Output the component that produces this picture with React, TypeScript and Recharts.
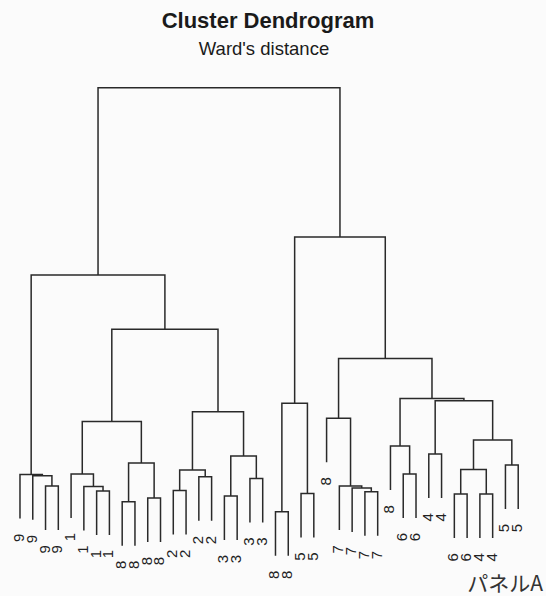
import React from 'react';
import { ComposedChart, Line, Scatter, XAxis, YAxis } from 'recharts';

// Leaf labels, left to right
const leafLabels = ['9','9','9','9','1','1','1','1','8','8','8','8','2','2','2','2','3','3','3','3','8','8','5','5','8','7','7','7','7','8','6','6','4','4','6','6','4','4','5','5'];

// hclust-style merge table: negative = leaf (1-based), positive = earlier merge (1-based)
const mergeLeft = [-3, -2, -1, -7, -6, -5, -9, -11, 7, 6, -13, -15, 11, -17, -19, 14, 13, 10, 3, -21, -23, 20, -28, -27, -26, -25, -31, -30, -33, -35, -37, 30, -39, 32, 29, 28, 26, 22, 19];
const mergeRight = [-4, 1, 2, -8, 4, 5, -10, -12, 8, 9, -14, -16, 12, -18, -20, 15, 16, 17, 18, -22, -24, 21, -29, 23, 24, 25, -32, 27, -34, -36, -38, 31, -40, 33, 34, 35, 36, 37, 38];
const mergeHeight = [2.31, 2.63, 2.67, 2.16, 2.30, 2.69, 1.82, 1.94, 3.03, 4.33, 2.17, 2.60, 2.81, 2.00, 2.55, 3.25, 4.63, 7.21, 8.91, 1.51, 2.08, 4.90, 2.13, 2.25, 2.31, 4.43, 2.69, 3.56, 3.31, 2.06, 2.06, 2.83, 2.97, 3.75, 4.98, 5.05, 6.30, 10.09, 14.76];
const hang = 1.375;

const W = 546;
const H = 596;

type Pt = { x: number; y: number };

function buildTree() {
  const n = leafLabels.length;
  const leafHeight: number[] = new Array(n).fill(0);
  const nodeX: number[] = [];
  const segments: Pt[][] = [];
  mergeLeft.forEach((l, k) => {
    const r = mergeRight[k];
    [l, r].forEach((c) => {
      if (c < 0) leafHeight[-c - 1] = mergeHeight[k] - hang;
    });
  });
  const pos = (c: number): Pt =>
    c < 0 ? { x: -c, y: leafHeight[-c - 1] } : { x: nodeX[c - 1], y: mergeHeight[c - 1] };
  mergeLeft.forEach((l, k) => {
    const r = mergeRight[k];
    const a = pos(l);
    const b = pos(r);
    const h = mergeHeight[k];
    nodeX[k] = (a.x + b.x) / 2;
    segments.push([
      { x: a.x, y: a.y },
      { x: a.x, y: h },
      { x: b.x, y: h },
      { x: b.x, y: b.y },
    ]);
  });
  const leaves = leafLabels.map((label, i) => ({ x: i + 1, y: leafHeight[i], label }));
  return { segments, leaves };
}

const { segments, leaves } = buildTree();

const LeafLabel = (props: any) => {
  const { cx, cy, payload } = props;
  if (cx == null || cy == null) return null;
  const x = cx + 4;
  const y = cy + 15;
  return (
    <text
      x={x}
      y={y}
      transform={`rotate(-90, ${x}, ${y})`}
      textAnchor="end"
      fontSize={15}
      fontFamily="'Liberation Sans', Arial, sans-serif"
      fill="#222"
    >
      {payload.label}
    </text>
  );
};

export default function App() {
  return (
    <div style={{ position: 'absolute', left: 0, top: 0, width: W, height: H, background: '#fbfbfb', fontFamily: "'Liberation Sans', Arial, sans-serif" }}>
      <div style={{ position: 'absolute', left: 0, width: 536, top: 8, textAlign: 'center', fontSize: 22, fontWeight: 'bold', lineHeight: '26px', color: '#1a1a1a' }}>
        Cluster Dendrogram
      </div>
      <div style={{ position: 'absolute', left: 0, width: 528, top: 38, textAlign: 'center', fontSize: 18.5, lineHeight: '22px', color: '#1a1a1a' }}>
        Ward's distance
      </div>
      <ComposedChart width={W} height={H} margin={{ top: 80, bottom: 36, left: 13.6, right: 21.4 }}>
        <XAxis type="number" dataKey="x" domain={[0.5, 40.5]} hide />
        <YAxis type="number" dataKey="y" domain={[0, 15]} hide />
        {segments.map((seg, k) => (
          <Line
            key={k}
            data={seg}
            dataKey="y"
            type="linear"
            stroke="#2a2a2a"
            strokeWidth={1.5}
            dot={false}
            activeDot={false}
            isAnimationActive={false}
          />
        ))}
        <Scatter data={leaves} dataKey="y" shape={LeafLabel} isAnimationActive={false} />
      </ComposedChart>
      <div style={{ position: 'absolute', right: 3, top: 570, fontSize: 21, lineHeight: '24px', whiteSpace: 'nowrap', color: '#333', fontFamily: "'Noto Sans CJK JP', sans-serif" }}>
        パネルA
      </div>
    </div>
  );
}
